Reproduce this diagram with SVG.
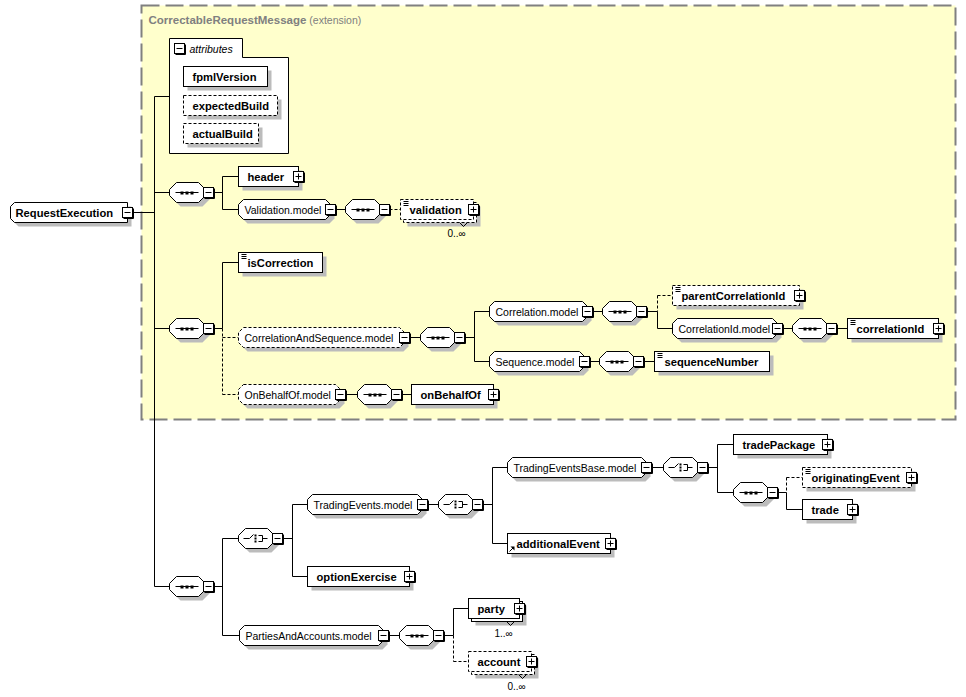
<svg xmlns="http://www.w3.org/2000/svg" xmlns:xlink="http://www.w3.org/1999/xlink" width="966" height="697" viewBox="0 0 966 697">
<style>
.box{fill:#fff;stroke:#000;stroke-width:1}
.d{stroke-dasharray:3 2}
.sh{fill:#bcbcbc;stroke:none}
.c{fill:none;stroke:#000;stroke-width:1}
.cd{fill:none;stroke:#000;stroke-width:1;stroke-dasharray:3 2}
.e{font-family:"Liberation Sans",Arial,sans-serif;font-size:11.2px;font-weight:bold;fill:#000}
.m{font-family:"Liberation Sans",Arial,sans-serif;font-size:10.5px;fill:#000}
.o{font-family:"Liberation Sans",Arial,sans-serif;font-size:10px;fill:#000}
.ic{fill:none;stroke:#000;stroke-width:1}
</style>
<defs>
<g id="mi"><path d="M11 1V11H1" fill="none" stroke="#000"/><rect x="0" y="0" width="10" height="10" fill="#fff" stroke="#000"/><path d="M2 5H8" stroke="#000"/></g>
<g id="pl"><path d="M11 1V11H1" fill="none" stroke="#000"/><rect x="0" y="0" width="10" height="10" fill="#fff" stroke="#000"/><path d="M2 5H8M5 2V8" stroke="#000"/></g>
<g id="seq"><polygon class="sh" points="11,-6 33,-6 40,1 40,7 33,14 11,14 4,7 4,1"/><polygon class="box" points="7,-10 29,-10 36,-3 36,3 29,10 7,10 0,3 0,-3"/><path d="M6 0H29" stroke="#000"/><rect x="11" y="-1" width="3" height="3" fill="#000"/><rect x="16" y="-1" width="3" height="3" fill="#000"/><rect x="21" y="-1" width="3" height="3" fill="#000"/><use xlink:href="#mi" x="34" y="-5"/></g>
<g id="cho"><polygon class="sh" points="11,-6 33,-6 40,1 40,7 33,14 11,14 4,7 4,1"/><polygon class="box" points="7,-10 29,-10 36,-3 36,3 29,10 7,10 0,3 0,-3"/><path d="M5 0H11L15 -4M20 -3H24V3H20M24 0H29" class="ic"/><rect x="16" y="-4" width="2" height="2" fill="#000"/><rect x="16" y="-1" width="2" height="2" fill="#000"/><rect x="16" y="2" width="2" height="2" fill="#000"/><use xlink:href="#mi" x="34" y="-5"/></g>
<path id="st" d="M3 0H8M3 2H8M3 4H8" class="ic"/>
</defs>
<g transform="translate(0.5 0.5)">
<g id="extension">
<rect x="141" y="5" width="814" height="414" fill="#FFFFCC" stroke="#808080" stroke-width="2" stroke-dasharray="18 6"/>
<text x="148" y="23" font-family="Liberation Sans, Arial, sans-serif" font-size="11.5" font-weight="bold" fill="#808080">CorrectableRequestMessage<tspan font-weight="normal" font-size="10.5"> (extension)</tspan></text>
</g>

<g id="connectors">
<path class="c" d="M131 212H154M154 96V586M154 96H169M154 192H169M154 328H169M154 586H169"/>
<path class="c" d="M213 192H222M222 176V209M222 176H238M222 209H238M335 209H345"/>
<path class="cd" d="M389 209H400"/>
<path class="c" d="M213 328H222M222 262V328M222 262H238"/>
<path class="cd" d="M222 328V394M222 337H238M222 394H238"/>
<path class="c" d="M409 337H420M464 337H474M474 311V361M474 311H489M474 361H489"/>
<path class="c" d="M592 311H602M646 311H657M657 311V328M657 328H672"/>
<path class="cd" d="M657 295V311M657 295H672"/>
<path class="c" d="M782 328H792M836 328H847M589 361H599M643 361H654M345 394H357M401 394H411"/>
<path class="c" d="M213 586H222M222 538V635M222 538H238M222 635H239M282 538H292M292 504V576M292 504H307M292 576H307"/>
<path class="c" d="M427 504H438M482 504H492M492 467V543M492 467H507M492 543H507"/>
<path class="c" d="M651 467H663M707 467H717M717 444V492M717 444H733M717 492H733M777 492H786M786 492V509M786 509H802"/>
<path class="cd" d="M786 477V492M786 477H802"/>
<path class="c" d="M388 635H399M443 635H453M453 608V635M453 608H468"/>
<path class="cd" d="M453 635V661M453 661H468"/>
</g>

<g id="RequestExecution">
<polygon class="sh" points="18,206 131,206 131,226 18,226 14,222 14,210"/>
<polygon class="box" points="14,202 127,202 127,222 14,222 10,218 10,206"/>
<text class="e" x="15" y="216">RequestExecution</text>
<use xlink:href="#mi" x="122" y="207"/>
</g>

<g id="attributes">
<path class="box" d="M169 38H242V57H288V153H169Z"/>
<use xlink:href="#mi" x="174" y="43"/>
<text x="189" y="52" font-family="Liberation Sans, Arial, sans-serif" font-size="10.5" font-style="italic">attributes</text>
<rect class="sh" x="187" y="70" width="84" height="20"/>
<rect class="box" x="183" y="66" width="84" height="20"/>
<text class="e" x="192" y="80">fpmlVersion</text>
<rect class="sh" x="187" y="99" width="94" height="20"/>
<rect class="box d" x="183" y="95" width="94" height="20"/>
<text class="e" x="192" y="109">expectedBuild</text>
<rect class="sh" x="187" y="127" width="75" height="20"/>
<rect class="box d" x="183" y="123" width="75" height="20"/>
<text class="e" x="192" y="137">actualBuild</text>
</g>

<g id="seq1"><use xlink:href="#seq" x="169" y="192"/></g>

<g id="header">
<rect class="sh" x="242" y="170" width="60" height="20"/>
<rect class="box" x="238" y="166" width="60" height="20"/>
<text class="e" x="247" y="180">header</text>
<use xlink:href="#pl" x="293" y="171"/>
</g>

<g id="Validation.model">
<polygon class="sh" transform="translate(4 4)" points="243,199 325,199 330,204 330,214 325,219 243,219 238,214 238,204"/>
<polygon class="box" points="243,199 325,199 330,204 330,214 325,219 243,219 238,214 238,204"/>
<text class="m" x="244" y="213">Validation.model</text>
<use xlink:href="#mi" x="325" y="204"/>
</g>
<g id="seq-validation"><use xlink:href="#seq" x="345" y="209"/></g>

<g id="validation">
<rect class="sh" x="407" y="206" width="73" height="20"/>
<rect class="box d" x="403" y="202" width="73" height="20"/>
<rect class="box d" x="400" y="199" width="73" height="20"/>
<use xlink:href="#st" x="400" y="201"/>
<text class="e" x="409" y="213">validation</text>
<use xlink:href="#pl" x="468" y="204"/>
<polyline class="ic" points="459,222 463,226 467,222"/>
<text class="o" x="447" y="236">0..∞</text>
</g>

<g id="seq2"><use xlink:href="#seq" x="169" y="328"/></g>

<g id="isCorrection">
<rect class="sh" x="242" y="256" width="84" height="20"/>
<rect class="box" x="238" y="252" width="84" height="20"/>
<use xlink:href="#st" x="238" y="254"/>
<text class="e" x="247" y="266">isCorrection</text>
</g>

<g id="CorrelationAndSequence.model">
<polygon class="sh" transform="translate(4 4)" points="243,327 399,327 404,332 404,342 399,347 243,347 238,342 238,332"/>
<polygon class="box d" points="243,327 399,327 404,332 404,342 399,347 243,347 238,342 238,332"/>
<text class="m" x="244" y="341">CorrelationAndSequence.model</text>
<use xlink:href="#mi" x="399" y="332"/>
</g>
<g id="seq-cas"><use xlink:href="#seq" x="420" y="337"/></g>

<g id="Correlation.model">
<polygon class="sh" transform="translate(4 4)" points="494,301 582,301 587,306 587,316 582,321 494,321 489,316 489,306"/>
<polygon class="box" points="494,301 582,301 587,306 587,316 582,321 494,321 489,316 489,306"/>
<text class="m" x="495" y="315">Correlation.model</text>
<use xlink:href="#mi" x="582" y="306"/>
</g>
<g id="seq-corr"><use xlink:href="#seq" x="602" y="311"/></g>

<g id="parentCorrelationId">
<rect class="sh" x="676" y="289" width="127" height="20"/>
<rect class="box d" x="672" y="285" width="127" height="20"/>
<use xlink:href="#st" x="672" y="287"/>
<text class="e" x="681" y="299">parentCorrelationId</text>
<use xlink:href="#pl" x="794" y="290"/>
</g>

<g id="CorrelationId.model">
<polygon class="sh" transform="translate(4 4)" points="677,318 772,318 777,323 777,333 772,338 677,338 672,333 672,323"/>
<polygon class="box" points="677,318 772,318 777,323 777,333 772,338 677,338 672,333 672,323"/>
<text class="m" x="678" y="332">CorrelationId.model</text>
<use xlink:href="#mi" x="772" y="323"/>
</g>
<g id="seq-corrid"><use xlink:href="#seq" x="792" y="328"/></g>

<g id="correlationId">
<rect class="sh" x="851" y="322" width="91" height="20"/>
<rect class="box" x="847" y="318" width="91" height="20"/>
<use xlink:href="#st" x="847" y="320"/>
<text class="e" x="856" y="332">correlationId</text>
<use xlink:href="#pl" x="933" y="323"/>
</g>

<g id="Sequence.model">
<polygon class="sh" transform="translate(4 4)" points="494,351 579,351 584,356 584,366 579,371 494,371 489,366 489,356"/>
<polygon class="box" points="494,351 579,351 584,356 584,366 579,371 494,371 489,366 489,356"/>
<text class="m" x="495" y="365">Sequence.model</text>
<use xlink:href="#mi" x="579" y="356"/>
</g>
<g id="seq-seqmodel"><use xlink:href="#seq" x="599" y="361"/></g>

<g id="sequenceNumber">
<rect class="sh" x="658" y="355" width="115" height="20"/>
<rect class="box" x="654" y="351" width="115" height="20"/>
<use xlink:href="#st" x="654" y="353"/>
<text class="e" x="664" y="365">sequenceNumber</text>
</g>

<g id="OnBehalfOf.model">
<polygon class="sh" transform="translate(4 4)" points="243,384 335,384 340,389 340,399 335,404 243,404 238,399 238,389"/>
<polygon class="box d" points="243,384 335,384 340,389 340,399 335,404 243,404 238,399 238,389"/>
<text class="m" x="244" y="398">OnBehalfOf.model</text>
<use xlink:href="#mi" x="335" y="389"/>
</g>
<g id="seq-obo"><use xlink:href="#seq" x="357" y="394"/></g>

<g id="onBehalfOf">
<rect class="sh" x="415" y="388" width="82" height="20"/>
<rect class="box" x="411" y="384" width="82" height="20"/>
<text class="e" x="420" y="398">onBehalfOf</text>
<use xlink:href="#pl" x="488" y="389"/>
</g>

<g id="seq3"><use xlink:href="#seq" x="169" y="586"/></g>
<g id="choice1"><use xlink:href="#cho" x="238" y="538"/></g>

<g id="TradingEvents.model">
<polygon class="sh" transform="translate(4 4)" points="312,494 417,494 422,499 422,509 417,514 312,514 307,509 307,499"/>
<polygon class="box" points="312,494 417,494 422,499 422,509 417,514 312,514 307,509 307,499"/>
<text class="m" x="313" y="508">TradingEvents.model</text>
<use xlink:href="#mi" x="417" y="499"/>
</g>
<g id="choice2"><use xlink:href="#cho" x="438" y="504"/></g>

<g id="TradingEventsBase.model">
<polygon class="sh" transform="translate(4 4)" points="512,457 641,457 646,462 646,472 641,477 512,477 507,472 507,462"/>
<polygon class="box" points="512,457 641,457 646,462 646,472 641,477 512,477 507,472 507,462"/>
<text class="m" x="513" y="471">TradingEventsBase.model</text>
<use xlink:href="#mi" x="641" y="462"/>
</g>
<g id="choice3"><use xlink:href="#cho" x="663" y="467"/></g>

<g id="tradePackage">
<rect class="sh" x="737" y="438" width="94" height="20"/>
<rect class="box" x="733" y="434" width="94" height="20"/>
<text class="e" x="742" y="448">tradePackage</text>
<use xlink:href="#pl" x="822" y="439"/>
</g>
<g id="seq-trade"><use xlink:href="#seq" x="733" y="492"/></g>

<g id="originatingEvent">
<rect class="sh" x="806" y="471" width="109" height="20"/>
<rect class="box d" x="802" y="467" width="109" height="20"/>
<use xlink:href="#st" x="802" y="469"/>
<text class="e" x="811" y="481">originatingEvent</text>
<use xlink:href="#pl" x="906" y="472"/>
</g>

<g id="trade">
<rect class="sh" x="806" y="503" width="50" height="20"/>
<rect class="box" x="802" y="499" width="50" height="20"/>
<text class="e" x="811" y="513">trade</text>
<use xlink:href="#pl" x="847" y="504"/>
</g>

<g id="additionalEvent">
<rect class="sh" x="511" y="537" width="103" height="20"/>
<rect class="box" x="507" y="533" width="103" height="20"/>
<path class="ic" d="M509 551L513 547"/>
<polygon points="510,546 514,546 514,550" fill="#000"/>
<text class="e" x="516" y="547">additionalEvent</text>
<use xlink:href="#pl" x="605" y="538"/>
</g>

<g id="optionExercise">
<rect class="sh" x="311" y="570" width="102" height="20"/>
<rect class="box" x="307" y="566" width="102" height="20"/>
<text class="e" x="316" y="580">optionExercise</text>
<use xlink:href="#pl" x="404" y="571"/>
</g>

<g id="PartiesAndAccounts.model">
<polygon class="sh" transform="translate(4 4)" points="244,625 378,625 383,630 383,640 378,645 244,645 239,640 239,630"/>
<polygon class="box" points="244,625 378,625 383,630 383,640 378,645 244,645 239,640 239,630"/>
<text class="m" x="245" y="639">PartiesAndAccounts.model</text>
<use xlink:href="#mi" x="378" y="630"/>
</g>
<g id="seq-pa"><use xlink:href="#seq" x="399" y="635"/></g>

<g id="party">
<rect class="sh" x="475" y="605" width="51" height="20"/>
<rect class="box" x="471" y="601" width="51" height="20"/>
<rect class="box" x="468" y="598" width="51" height="20"/>
<text class="e" x="477" y="612">party</text>
<use xlink:href="#pl" x="514" y="603"/>
<polyline class="ic" points="506,621 510,625 514,621"/>
<text class="o" x="494" y="636">1..∞</text>
</g>

<g id="account">
<rect class="sh" x="475" y="658" width="63" height="20"/>
<rect class="box d" x="471" y="654" width="63" height="20"/>
<rect class="box d" x="468" y="651" width="63" height="20"/>
<text class="e" x="477" y="665">account</text>
<use xlink:href="#pl" x="526" y="656"/>
<polyline class="ic" points="518,674 522,678 526,674"/>
<text class="o" x="507" y="689">0..∞</text>
</g>
</g>
</svg>
